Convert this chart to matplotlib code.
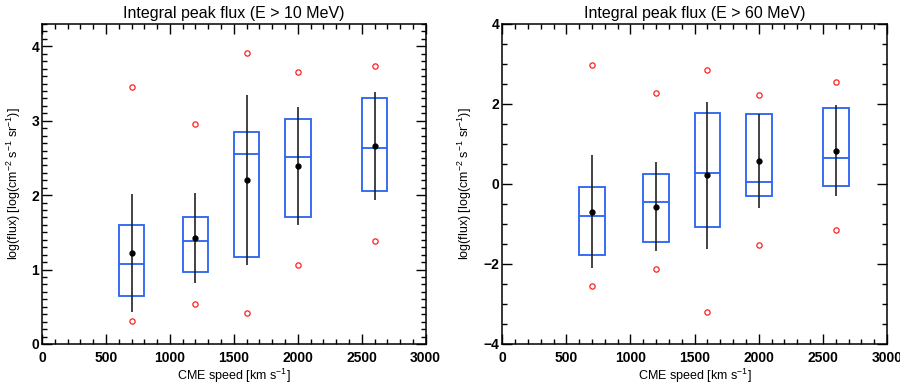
import matplotlib
matplotlib.use("Agg")
import matplotlib.pyplot as plt
from matplotlib.ticker import MultipleLocator

plt.rcParams['font.family'] = ['Liberation Sans', 'DejaVu Sans']
plt.rcParams['mathtext.fontset'] = 'custom'
plt.rcParams['mathtext.rm'] = 'Liberation Sans'
plt.rcParams['mathtext.it'] = 'Liberation Sans:italic'

# ===== DATA =====
speed = [700, 1200, 1600, 2000, 2600]
box_w = 200

# E > 10 MeV
q1_10 = [0.64, 0.97, 1.17, 1.70, 2.05]
med_10 = [1.08, 1.38, 2.55, 2.51, 2.64]
q3_10 = [1.60, 1.71, 2.85, 3.02, 3.30]
mean_10 = [1.22, 1.42, 2.21, 2.39, 2.66]
wlo_10 = [0.43, 0.82, 1.06, 1.60, 1.93]
whi_10 = [2.01, 2.03, 3.35, 3.18, 3.39]
omin_10 = [0.31, 0.54, 0.42, 1.06, 1.39]
omax_10 = [3.45, 2.96, 3.91, 3.66, 3.74]

# E > 60 MeV
q1_60 = [-1.78, -1.45, -1.08, -0.30, -0.04]
med_60 = [-0.79, -0.46, 0.28, 0.04, 0.64]
q3_60 = [-0.07, 0.26, 1.77, 1.74, 1.89]
mean_60 = [-0.69, -0.57, 0.22, 0.57, 0.83]
wlo_60 = [-2.11, -1.67, -1.63, -0.60, -0.31]
whi_60 = [0.72, 0.54, 2.06, 1.74, 1.97]
omin_60 = [-2.54, -2.13, -3.21, -1.53, -1.16]
omax_60 = [2.98, 2.27, 2.84, 2.22, 2.55]

BLUE = '#2a62f0'
RED = '#ff2020'


def draw_panel(ax, q1, med, q3, mean, wlo, whi, omin, omax, title, ylim, ymaj, ymin, ylab_x):
    heights = [b - a for a, b in zip(q1, q3)]
    ax.bar(speed, heights, width=box_w, bottom=q1, fill=False,
           edgecolor=BLUE, linewidth=1.3, zorder=2)
    ax.hlines(med, [s - box_w / 2 for s in speed], [s + box_w / 2 for s in speed],
              color=BLUE, linewidth=1.3, zorder=2)
    ax.vlines(speed, wlo, whi, color='#222222', linewidth=1.2, zorder=3)
    ax.plot(speed, mean, 'o', color='black', markersize=3.5, zorder=4)
    ax.plot(speed, omin, 'o', mfc='none', mec=RED, markersize=3.8, mew=0.9, zorder=4)
    ax.plot(speed, omax, 'o', mfc='none', mec=RED, markersize=3.8, mew=0.9, zorder=4)

    ax.set_xlim(0, 3000)
    ax.set_ylim(*ylim)
    ax.xaxis.set_major_locator(MultipleLocator(500))
    ax.xaxis.set_minor_locator(MultipleLocator(100))
    ax.yaxis.set_major_locator(MultipleLocator(ymaj))
    ax.yaxis.set_minor_locator(MultipleLocator(ymin))
    ax.tick_params(which='both', direction='in', top=True, right=True, width=1)
    ax.tick_params(which='major', length=7, labelsize=10)
    ax.tick_params(which='minor', length=3.5)
    ax.tick_params(axis='x', which='major', pad=5)
    ax.tick_params(axis='y', which='major', pad=2)
    for lab in ax.get_xticklabels() + ax.get_yticklabels():
        lab.set_fontweight('bold')
    for sp in ax.spines.values():
        sp.set_linewidth(1.1)
    ax.set_title(title, fontsize=11.5, pad=4)
    ax.set_xlabel('CME speed [km s$^{-1}$]', fontsize=9, labelpad=1)
    ax.set_ylabel('log(flux) [log(cm$^{-2}$ s$^{-1}$ sr$^{-1}$)]', fontsize=9)
    ax.yaxis.set_label_coords(ylab_x, 0.5)


fig = plt.figure(figsize=(9, 3.85), dpi=100)
ax1 = fig.add_axes([0.0467, 0.1065, 0.4263, 0.8312])
ax2 = fig.add_axes([0.558, 0.1065, 0.4276, 0.8312])

draw_panel(ax1, q1_10, med_10, q3_10, mean_10, wlo_10, whi_10, omin_10, omax_10,
           'Integral peak flux (E > 10 MeV)', (0, 4.3), 1, 0.1, -0.049)
draw_panel(ax2, q1_60, med_60, q3_60, mean_60, wlo_60, whi_60, omin_60, omax_60,
           'Integral peak flux (E > 60 MeV)', (-4, 4), 2, 0.5, -0.073)

fig.savefig('out.png', dpi=100)
